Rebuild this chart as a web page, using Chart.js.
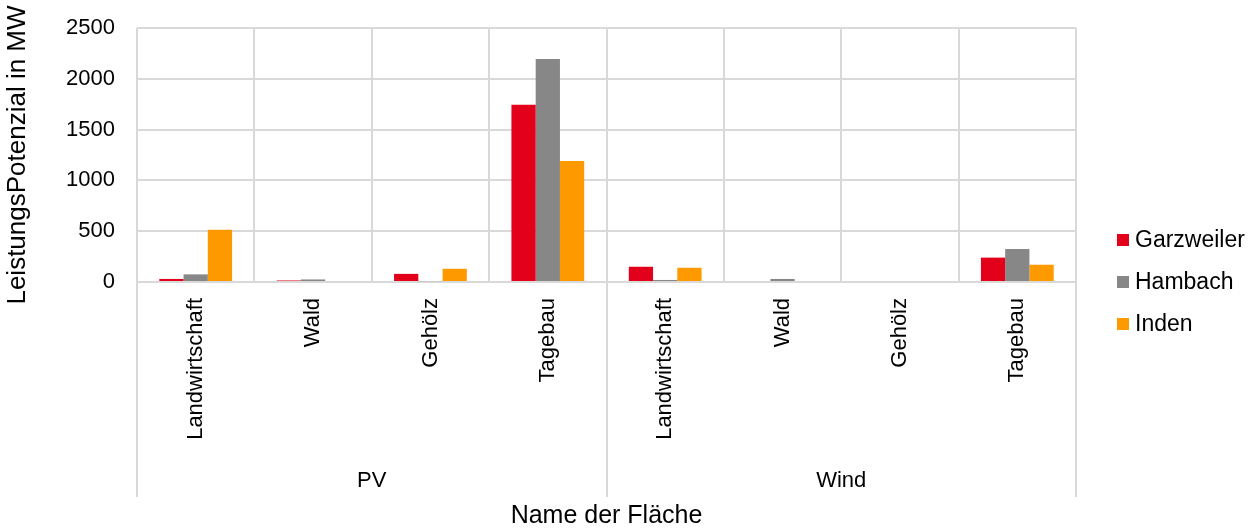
<!DOCTYPE html>
<html>
<head>
<meta charset="utf-8">
<script src="https://cdn.jsdelivr.net/npm/chart.js@4"></script>
<style>
  body { margin: 0; background: #fff; }
</style>
</head>
<body>
<canvas id="chart" width="1258" height="529"></canvas>
<script>
// Data
const categories = ['Landwirtschaft', 'Wald', 'Gehölz', 'Tagebau', 'Landwirtschaft', 'Wald', 'Gehölz', 'Tagebau'];
const groups = ['PV', 'Wind'];
const seriesNames = ['Garzweiler', 'Hambach', 'Inden'];
const garzweiler = [30, 15, 80, 1745, 150, 0, 0, 240];
const hambach = [75, 25, 8, 2195, 20, 30, 0, 325];
const inden = [515, 0, 130, 1190, 140, 0, 10, 170];
const yTicks = [0, 500, 1000, 1500, 2000, 2500];

const colors = ['#e3001b', '#878787', '#ff9900'];
const gridColor = '#d9d9d9';
const font = 'Liberation Sans, Arial, sans-serif';

// group labels + separators under the category labels, and the legend on the right
const extrasPlugin = {
    id: 'extras',
    afterDraw(chart) {
        const ctx = chart.ctx;
        const x = chart.scales.x;
        const top = chart.chartArea.bottom;
        const bottom = 497;
        const per = categories.length / groups.length;
        const step = x.getPixelForValue(1) - x.getPixelForValue(0);
        ctx.save();
        ctx.strokeStyle = gridColor;
        ctx.lineWidth = 2;
        for (let g = 0; g <= groups.length; g++) {
            const px = Math.round(x.getPixelForValue(g * per) - step / 2);
            ctx.beginPath();
            ctx.moveTo(px, top);
            ctx.lineTo(px, bottom);
            ctx.stroke();
        }
        ctx.fillStyle = '#000';
        ctx.font = '22px ' + font;
        ctx.textAlign = 'center';
        ctx.textBaseline = 'middle';
        groups.forEach((name, g) => {
            const a = x.getPixelForValue(g * per) - step / 2;
            const b = x.getPixelForValue((g + 1) * per - 1) + step / 2;
            ctx.fillText(name, (a + b) / 2, 481);
        });

        // legend
        ctx.font = '23px ' + font;
        ctx.textAlign = 'left';
        chart.data.datasets.forEach((ds, i) => {
            const cy = 240 + i * 42;
            ctx.fillStyle = ds.backgroundColor;
            ctx.fillRect(1117, cy - 6, 12, 12);
            ctx.fillStyle = '#000';
            ctx.fillText(ds.label, 1135, cy + 1);
        });
        ctx.restore();
    }
};

const ctx = document.getElementById('chart').getContext('2d');
const chart = new Chart(ctx, {
    type: 'bar',
    data: {
        labels: categories,
        datasets: [
            { label: seriesNames[0], data: garzweiler, backgroundColor: colors[0] },
            { label: seriesNames[1], data: hambach, backgroundColor: colors[1] },
            { label: seriesNames[2], data: inden, backgroundColor: colors[2] }
        ]
    },
    options: {
        responsive: false,
        animation: false,
        layout: { padding: { top: 0, right: 182, left: 0, bottom: 0 } },
        datasets: {
            bar: { barPercentage: 1, categoryPercentage: 0.62 }
        },
        plugins: {
            legend: { display: false },
            tooltip: { enabled: false }
        },
        scales: {
            x: {
                grid: { offset: true, color: gridColor, lineWidth: 2, drawTicks: false },
                border: { display: false },
                ticks: {
                    color: '#000',
                    font: { size: 22, family: font },
                    minRotation: 90,
                    maxRotation: 90,
                    padding: 16,
                    autoSkip: false
                },
                title: {
                    display: true,
                    text: 'Name der Fläche',
                    color: '#000',
                    font: { size: 25, family: font, lineHeight: 1 },
                    padding: 0
                },
                afterFit(scale) { scale.height = 247; }
            },
            y: {
                min: 0,
                max: 2500,
                afterBuildTicks(scale) { scale.ticks = yTicks.map(v => ({ value: v })); },
                grid: { color: gridColor, lineWidth: 2, drawTicks: false },
                border: { display: false },
                ticks: {
                    color: '#000',
                    font: { size: 22, family: font },
                    padding: 22,
                    callback: v => String(v)
                },
                title: {
                    display: true,
                    text: 'LeistungsPotenzial in MW',
                    color: '#000',
                    font: { size: 26, family: font, lineHeight: 1.4 },
                    padding: 0
                },
                afterFit(scale) {
                    scale.width = 137;
                    scale.paddingTop = 28;
                    scale.paddingBottom = 0;
                }
            }
        }
    },
    plugins: [extrasPlugin]
});
</script>
</body>
</html>
